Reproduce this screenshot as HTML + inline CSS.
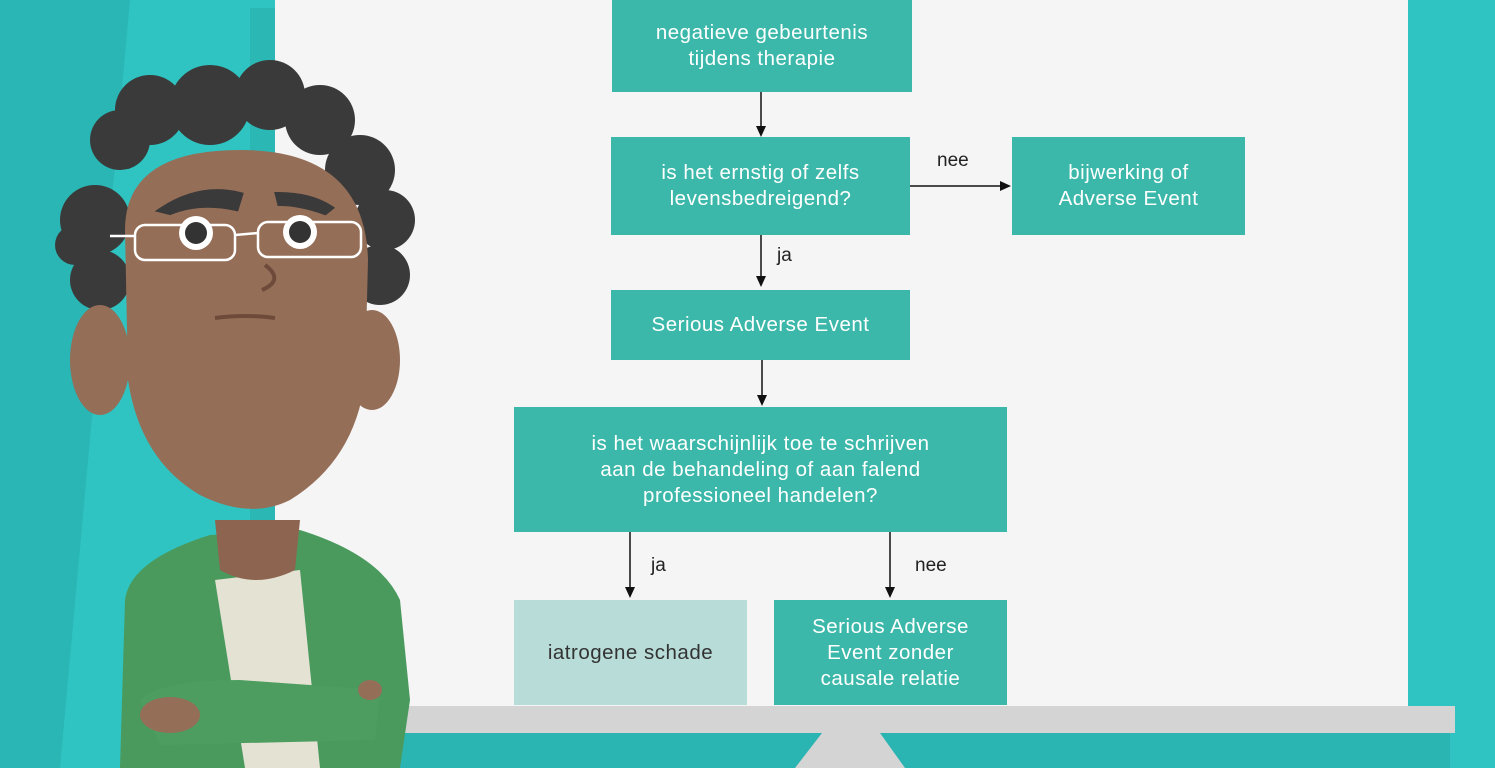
<!DOCTYPE html>
<html><head><meta charset="utf-8"><style>
body{margin:0;width:1495px;height:768px;overflow:hidden;background:#2fc4c1;font-family:"Liberation Sans",sans-serif;position:relative}
.b{position:absolute;background:#3bb8a9;color:#fff;display:flex;align-items:center;justify-content:center;text-align:center;font-size:20.5px;line-height:26px;letter-spacing:0.5px}
.l{position:absolute;font-size:19px;color:#222}
svg{position:absolute;left:0;top:0}
</style></head><body>
<svg width="1495" height="768">
<path d="M0 0 L130 0 L60 768 L0 768Z" fill="#2ab6b4"/>
<rect x="250" y="8" width="30" height="700" fill="#2bb8b5"/>
<rect x="275" y="0" width="1133" height="707" fill="#f5f5f5"/>
<rect x="400" y="730" width="1050" height="38" fill="#2bb5b2"/>
<rect x="400" y="706" width="1055" height="27" fill="#d4d4d4"/>
<polygon points="822,733 880,733 905,768 795,768" fill="#d4d4d4"/>
<g stroke="#111" stroke-width="1.5" fill="#111">
<line x1="761" y1="92" x2="761" y2="128"/><polygon points="756,126 766,126 761,137" stroke="none"/>
<line x1="910" y1="186" x2="1002" y2="186"/><polygon points="1000,181 1000,191 1011,186" stroke="none"/>
<line x1="761" y1="235" x2="761" y2="278"/><polygon points="756,276 766,276 761,287" stroke="none"/>
<line x1="762" y1="360" x2="762" y2="397"/><polygon points="757,395 767,395 762,406" stroke="none"/>
<line x1="630" y1="532" x2="630" y2="589"/><polygon points="625,587 635,587 630,598" stroke="none"/>
<line x1="890" y1="532" x2="890" y2="589"/><polygon points="885,587 895,587 890,598" stroke="none"/>
</g>
<!-- character -->
<path d="M120 768 L125 600 Q130 560 210 535 L300 530 Q380 555 400 600 L410 700 L400 768Z" fill="#4a9a5e"/>
<path d="M215 580 L300 570 L320 768 L245 768Z" fill="#e3e2d3"/>
<path d="M215 520 L300 520 L295 570 Q255 590 220 570Z" fill="#8d6450"/>
<path d="M140 700 Q160 680 240 680 L380 690 L375 740 L160 745Z" fill="#4d9d60"/>
<ellipse cx="370" cy="690" rx="12" ry="10" fill="#956e58"/>
<ellipse cx="170" cy="715" rx="30" ry="18" fill="#956e58"/>
<g fill="#3a3a3a">
<circle cx="120" cy="140" r="30"/><circle cx="95" cy="220" r="35"/><circle cx="100" cy="280" r="30"/><circle cx="150" cy="110" r="35"/>
<circle cx="210" cy="105" r="40"/><circle cx="270" cy="95" r="35"/><circle cx="320" cy="120" r="35"/><circle cx="360" cy="170" r="35"/>
<circle cx="385" cy="220" r="30"/><circle cx="380" cy="275" r="30"/><circle cx="75" cy="245" r="20"/>
</g>
<ellipse cx="100" cy="360" rx="30" ry="55" fill="#956e58"/>
<ellipse cx="372" cy="360" rx="28" ry="50" fill="#956e58"/>
<path d="M125 230 Q125 150 240 150 Q365 150 368 260 L365 380 Q355 460 290 500 Q250 520 200 495 Q140 460 128 380Z" fill="#956e58"/>
<path d="M162 210 Q200 185 240 195 L236 208 Q200 200 170 212Z" fill="#3a3a3a" stroke="#3a3a3a" stroke-width="6"/>
<path d="M278 195 Q310 195 330 208 L325 212 Q300 203 280 203Z" fill="#3a3a3a" stroke="#3a3a3a" stroke-width="6"/>
<g fill="none" stroke="#fff" stroke-width="2.5">
<rect x="135" y="225" width="100" height="35" rx="10"/><rect x="258" y="222" width="103" height="35" rx="10"/>
<line x1="235" y1="235" x2="258" y2="233"/><line x1="110" y1="236" x2="135" y2="236"/>
</g>
<circle cx="196" cy="233" r="17" fill="#fff"/><circle cx="196" cy="233" r="11" fill="#333"/>
<circle cx="300" cy="232" r="17" fill="#fff"/><circle cx="300" cy="232" r="11" fill="#333"/>
<path d="M265 265 Q285 280 262 290" fill="none" stroke="#6e4a3a" stroke-width="4"/>
<path d="M215 318 Q245 314 275 318" fill="none" stroke="#6e4a3a" stroke-width="4"/>
</svg>
<div class="b" style="left:612px;top:0;width:300px;height:92px">negatieve gebeurtenis<br>tijdens therapie</div>
<div class="b" style="left:611px;top:137px;width:299px;height:98px">is het ernstig of zelfs<br>levensbedreigend?</div>
<div class="b" style="left:1012px;top:137px;width:233px;height:98px">bijwerking of<br>Adverse Event</div>
<div class="b" style="left:611px;top:290px;width:299px;height:70px">Serious Adverse Event</div>
<div class="b" style="left:514px;top:407px;width:493px;height:125px">is het waarschijnlijk toe te schrijven<br>aan de behandeling of aan falend<br>professioneel handelen?</div>
<div class="b" style="left:514px;top:600px;width:233px;height:105px;background:#b8dcd8;color:#333">iatrogene schade</div>
<div class="b" style="left:774px;top:600px;width:233px;height:105px">Serious Adverse<br>Event zonder<br>causale relatie</div>
<div class="l" style="left:937px;top:150px">nee</div>
<div class="l" style="left:777px;top:245px">ja</div>
<div class="l" style="left:651px;top:555px">ja</div>
<div class="l" style="left:915px;top:555px">nee</div>
</body></html>
